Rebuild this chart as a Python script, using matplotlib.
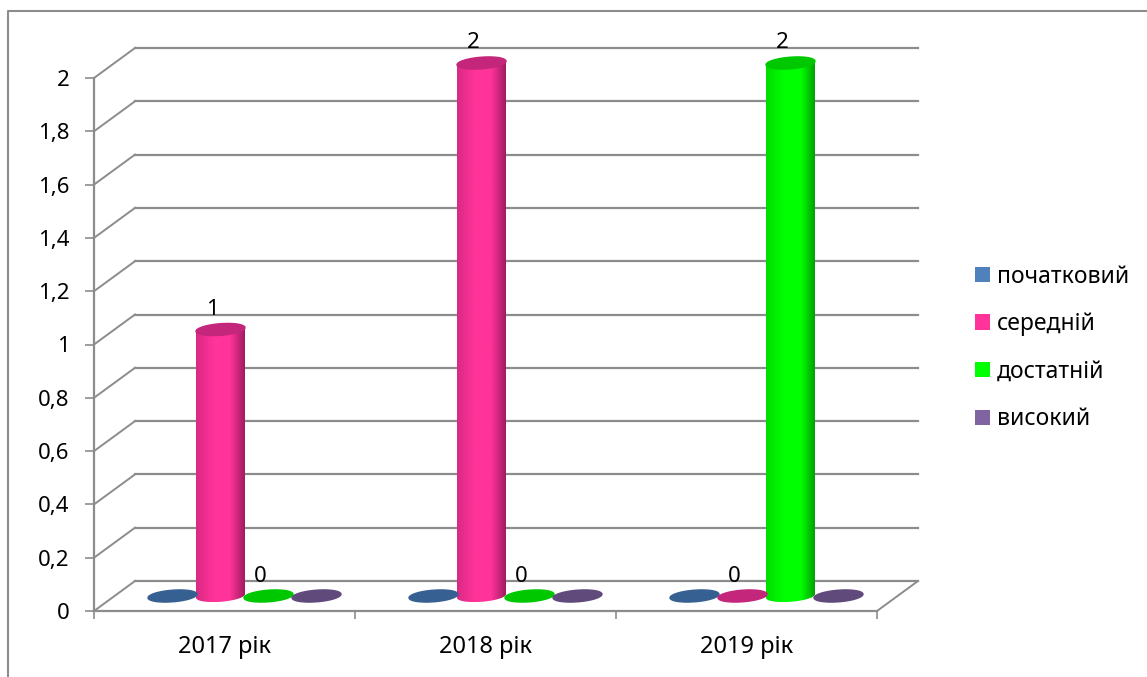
import numpy as np
import matplotlib
matplotlib.use('Agg')
import matplotlib.pyplot as plt
from matplotlib.colors import LinearSegmentedColormap
from matplotlib.lines import Line2D
from matplotlib.patches import Patch, Polygon
from matplotlib.transforms import Affine2D

plt.rcParams['font.family'] = ['Noto Sans', 'DejaVu Sans']

categories = ['2017 рік', '2018 рік', '2019 рік']
series_names = ['початковий', 'середній', 'достатній', 'високий']
pochatkovyi = [0, 0, 0]
serednii = [1, 2, 0]
dostatnii = [0, 0, 2]
vysokyi = [0, 0, 0]
series_values = [pochatkovyi, serednii, dostatnii, vysokyi]
show_labels = [False, True, True, False]
y_ticks = [0, 0.2, 0.4, 0.6, 0.8, 1, 1.2, 1.4, 1.6, 1.8, 2]
y_tick_labels = ['0', '0,2', '0,4', '0,6', '0,8', '1', '1,2', '1,4', '1,6', '1,8', '2']

legend_colors = ['#4F81BD', '#FF3399', '#00FF00', '#8064A2']
cap_colors = ['#376092', '#C4267B', '#00C800', '#604A7B']
left_colors = ['#3F6A9C', '#D92A84', '#00DC00', '#6A5088']
right_colors = ['#2F5180', '#A01C62', '#009C00', '#503C68']
grid_color = '#8C8C8C'
font_size = 16
text_size = 17
legend_size = 16.5

W, H = 1147, 677
fig = plt.figure(figsize=(W / 100, H / 100), dpi=100)
ax = fig.add_axes([94 / W, 1 - 611 / H, (877 - 94) / W, (611 - 78) / H])
ax.patch.set_alpha(0)

# depth of the fake 3d box, in pixels
back = ax.transData + Affine2D().translate(41, 30)
mid = ax.transData + Affine2D().translate(20, 15)
px_x = 3 / (877 - 94)
px_y = 2 / (611 - 78)

# outer frame, only left and top are visible
fig.add_artist(Line2D([8 / W, 8 / W, 1], [0, 1 - 11 / H, 1 - 11 / H], color=grid_color, lw=1.5))

ax.set_xlim(0, 3)
ax.set_ylim(0, 2)

# walls and floor
for v in y_ticks:
    ax.plot([0, 3], [v, v], transform=back, color=grid_color, lw=1.6, clip_on=False, zorder=1)
    p0 = ax.transData.transform((0, v))
    p1 = back.transform((0, v))
    fig.add_artist(Line2D([p0[0] / W, p1[0] / W], [p0[1] / H, p1[1] / H], color=grid_color, lw=1.4, zorder=1))
p0 = ax.transData.transform((3, 0))
p1 = back.transform((3, 0))
fig.add_artist(Line2D([p0[0] / W, p1[0] / W], [p0[1] / H, p1[1] / H], color=grid_color, lw=1.4, zorder=1))


def ellipse_points(cx, v, t):
    a = 24.5 * px_x
    b = 5.8 * px_y
    tilt = 1.8 * px_y
    return cx + a * np.cos(t), v + b * np.sin(t) + tilt * np.cos(t)


t_low = np.linspace(np.pi, 2 * np.pi, 40)
t_high = np.linspace(0, np.pi, 40)
t_all = np.linspace(0, 2 * np.pi, 80)
shade = np.linspace(0, 1, 120).reshape(1, -1)

for s, values in enumerate(series_values):
    cmap = LinearSegmentedColormap.from_list(
        'c', [(0, left_colors[s]), (0.35, legend_colors[s]), (0.7, legend_colors[s]), (1, right_colors[s])])
    cx_off = (s - 1.5) * 48 * px_x
    for c, v in enumerate(values):
        cx = c + 0.5 + cx_off
        # body
        if v > 0:
            xs = np.r_[ellipse_points(cx, 0, t_low)[0], ellipse_points(cx, v, t_high)[0]]
            ys = np.r_[ellipse_points(cx, 0, t_low)[1], ellipse_points(cx, v, t_high)[1]]
            outline = Polygon(np.c_[xs, ys], closed=True, transform=mid, fill=False, edgecolor='none')
            ax.add_patch(outline)
            im = ax.imshow(shade, extent=[xs.min(), xs.max(), ys.min(), ys.max()],
                           cmap=cmap, aspect='auto', interpolation='bilinear', transform=mid, zorder=3)
            im.set_clip_path(outline)
            im.set_clip_box(fig.bbox)
        # cap
        ex, ey = ellipse_points(cx, v, t_all)
        ax.fill(ex, ey, color=cap_colors[s], transform=mid, clip_on=False, zorder=4)
        if show_labels[s]:
            ax.annotate(str(v), xy=(cx, v), xycoords=mid, xytext=(-8.5 * 0.72, 0.72 * 20), textcoords='offset points',
                        ha='center', va='center', fontsize=font_size, color='black', zorder=5, annotation_clip=False)

ax.set_xlim(0, 3)
ax.set_ylim(0, 2)

ax.set_yticks(y_ticks)
ax.set_yticklabels(y_tick_labels)
ax.set_xticks([0, 1, 2, 3])
ax.set_xticklabels([])
ax.set_xticks([0.5, 1.5, 2.5], minor=True)
ax.set_xticklabels(categories, minor=True)
ax.tick_params(axis='y', length=6.5, width=1.2, color=grid_color, labelsize=font_size, pad=11)
ax.tick_params(axis='x', which='major', length=5.5, width=1.2, color=grid_color)
ax.tick_params(axis='x', which='minor', length=0, labelsize=text_size, pad=17)

for name in ['top', 'right']:
    ax.spines[name].set_visible(False)
for name in ['left', 'bottom']:
    ax.spines[name].set_color(grid_color)
    ax.spines[name].set_linewidth(1.6)

handles = [Patch(facecolor=col, edgecolor='none') for col in legend_colors]
ax.legend(handles, series_names, loc='center left', bbox_to_anchor=(975 / W, 1 - 348 / H),
          bbox_transform=fig.transFigure, frameon=False, fontsize=legend_size, borderpad=0, borderaxespad=0,
          handlelength=0.66, handleheight=0.66, handletextpad=0.3, labelspacing=1.03)

fig.savefig('out.png', dpi=100)
